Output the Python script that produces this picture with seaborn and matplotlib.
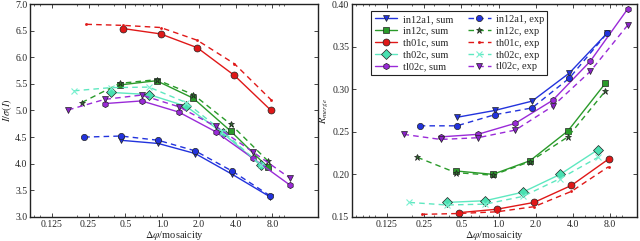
import matplotlib
matplotlib.use("Agg")
import matplotlib.pyplot as plt
import matplotlib.ticker as mticker
import numpy as np
import seaborn as sns

# delta-phi / mosaicity for each data set
x_in12a1 = [0.23, 0.46, 0.93, 1.87, 3.75, 7.6]
x_in12c = [0.22, 0.45, 0.9, 1.8, 3.65, 7.35]
x_th01c = [0.24, 0.48, 0.97, 1.94, 3.9, 7.8]
x_th02c = [0.19, 0.38, 0.78, 1.57, 3.16, 6.4]
x_tl02c = [0.17, 0.34, 0.68, 1.37, 2.75, 5.55, 11.1]

# I/sigma(I), summation integration (starts at 2nd x) and 3D profile ("exp")
isig_in12a1_sum = [4.44, 4.38, 4.19, 3.80, 3.38]
isig_in12a1_exp = [4.50, 4.52, 4.44, 4.24, 3.86, 3.40]
isig_in12c_sum = [5.48, 5.56, 5.23, 4.61, 3.93]
isig_in12c_exp = [5.15, 5.51, 5.58, 5.30, 4.74, 4.05]
isig_th01c_sum = [6.54, 6.44, 6.18, 5.66, 5.00]
isig_th01c_exp = [6.62, 6.60, 6.56, 6.32, 5.88, 5.20]
isig_th02c_sum = [5.34, 5.30, 5.08, 4.57, 3.97]
isig_th02c_exp = [5.37, 5.43, 5.44, 5.15, 4.60, 3.98]
isig_tl02c_sum = [5.13, 5.18, 4.97, 4.60, 4.10, 3.60]
isig_tl02c_exp = [5.01, 5.21, 5.29, 5.07, 4.70, 4.22, 3.73]

# R_merge
rm_in12a1_sum = [0.267, 0.275, 0.286, 0.319, 0.366]
rm_in12a1_exp = [0.257, 0.257, 0.270, 0.278, 0.313, 0.366]
rm_in12c_sum = [0.204, 0.200, 0.216, 0.251, 0.307]
rm_in12c_exp = [0.220, 0.202, 0.199, 0.215, 0.244, 0.298]
rm_th01c_sum = [0.155, 0.159, 0.167, 0.187, 0.218]
rm_th01c_exp = [0.153, 0.154, 0.156, 0.162, 0.180, 0.209]
rm_th02c_sum = [0.167, 0.169, 0.179, 0.200, 0.229]
rm_th02c_exp = [0.167, 0.164, 0.165, 0.174, 0.195, 0.220]
rm_tl02c_sum = [0.244, 0.247, 0.260, 0.287, 0.333, 0.394]
rm_tl02c_exp = [0.247, 0.241, 0.243, 0.252, 0.280, 0.321, 0.375]

xticks = [0.125, 0.25, 0.5, 1.0, 2.0, 4.0, 8.0]
xtick_labels = ["0.125", "0.25", "0.5", "1.0", "2.0", "4.0", "8.0"]

names = ["in12a1", "in12c", "th01c", "th02c", "tl02c"]
xs = [x_in12a1, x_in12c, x_th01c, x_th02c, x_tl02c]
isig_sum = [isig_in12a1_sum, isig_in12c_sum, isig_th01c_sum, isig_th02c_sum, isig_tl02c_sum]
isig_exp = [isig_in12a1_exp, isig_in12c_exp, isig_th01c_exp, isig_th02c_exp, isig_tl02c_exp]
rm_sum = [rm_in12a1_sum, rm_in12c_sum, rm_th01c_sum, rm_th02c_sum, rm_tl02c_sum]
rm_exp = [rm_in12a1_exp, rm_in12c_exp, rm_th01c_exp, rm_th02c_exp, rm_tl02c_exp]

line_col = ["#2233dd", "#2a9a2a", "#e01818", "#5ee8c0", "#9a2ad8"]
mark_col = ["#2233dd", "#2a9a2a", "#e01818", "#48e0b0", "#9a2ad8"]
exp_mark_col = ["#2233dd", "#2e6a2e", "#e01818", "#7af0d0", "#8a22c8"]
sum_marker = ["v", "s", "o", "D", "h"]
exp_marker = ["o", "*", ".", "x", "v"]
sum_ms = [4.5, 4.5, 5, 5, 4.5]
exp_ms = [4.5, 5, 3, 4, 5]

sns.set_theme(style="ticks")
plt.rcParams["font.family"] = ["Liberation Serif", "DejaVu Serif"]
plt.rcParams["mathtext.fontset"] = "stix"
plt.rcParams["xtick.direction"] = "in"
plt.rcParams["ytick.direction"] = "in"
plt.rcParams["xtick.top"] = True
plt.rcParams["ytick.right"] = True
plt.rcParams["axes.edgecolor"] = "#222222"
plt.rcParams["axes.linewidth"] = 1.0

fig = plt.figure(figsize=(6.4, 2.41), dpi=100)
ax1 = fig.add_axes([0.047, 0.10, 0.45, 0.883])
ax2 = fig.add_axes([0.55, 0.10, 0.445, 0.883])


def draw(ax, sums, exps):
    for i in range(5):
        x = xs[i]
        sns.lineplot(x=x[len(x) - len(sums[i]):], y=sums[i], ax=ax, sort=False,
                     color=line_col[i], linewidth=1.0, marker=sum_marker[i],
                     markersize=sum_ms[i], markerfacecolor=mark_col[i],
                     markeredgecolor="#222222", markeredgewidth=0.5,
                     label=names[i] + ", sum")
    for i in range(5):
        sns.lineplot(x=xs[i], y=exps[i], ax=ax, sort=False,
                     color=line_col[i], linewidth=1.0, linestyle=(0, (4, 3)),
                     marker=exp_marker[i], markersize=exp_ms[i],
                     markerfacecolor=exp_mark_col[i],
                     markeredgecolor=exp_mark_col[i] if exp_marker[i] in ("x", ".") else "#222222",
                     markeredgewidth=0.8 if exp_marker[i] == "x" else 0.5,
                     label=names[i] + ", exp")
    ax.set_xscale("log")
    ax.xaxis.set_major_locator(mticker.FixedLocator(xticks))
    ax.xaxis.set_major_formatter(mticker.FixedFormatter(xtick_labels))
    ax.xaxis.set_minor_locator(mticker.LogLocator(base=10, subs=np.arange(1, 10)))
    ax.xaxis.set_minor_formatter(mticker.NullFormatter())
    ax.tick_params(which="major", length=3, width=0.6, labelsize=7, pad=2)
    ax.tick_params(which="minor", length=1.5, width=0.5)
    ax.set_xlabel(r"$\Delta\varphi$/mosaicity", fontsize=7.5, labelpad=0)


draw(ax1, isig_sum, isig_exp)
ax1.set_xlim(0.083, 18.9)
ax1.set_ylim(3.0, 7.0)
ax1.yaxis.set_major_locator(mticker.MultipleLocator(0.5))
ax1.yaxis.set_major_formatter(mticker.FormatStrFormatter("%.1f"))
ax1.set_ylabel(r"$I/\sigma(I)$", fontsize=7.5, labelpad=1)
ax1.get_legend().remove()

draw(ax2, rm_sum, rm_exp)
ax2.set_xlim(0.065, 13.2)
ax2.set_ylim(0.15, 0.40)
ax2.yaxis.set_major_locator(mticker.MultipleLocator(0.05))
ax2.yaxis.set_major_formatter(mticker.FormatStrFormatter("%.2f"))
ax2.set_ylabel(r"$R_{merge}$", fontsize=7.5, labelpad=1)
leg = ax2.legend(loc="upper left", ncol=2, fontsize=7.5, frameon=True, fancybox=False,
                 edgecolor="#222222", framealpha=1, borderpad=0.3, labelspacing=0.25,
                 handlelength=2.2, handletextpad=0.5, columnspacing=1.4,
                 bbox_to_anchor=(0.05, 0.99))
leg.get_frame().set_linewidth(0.8)

fig.savefig("out.png", dpi=100)
